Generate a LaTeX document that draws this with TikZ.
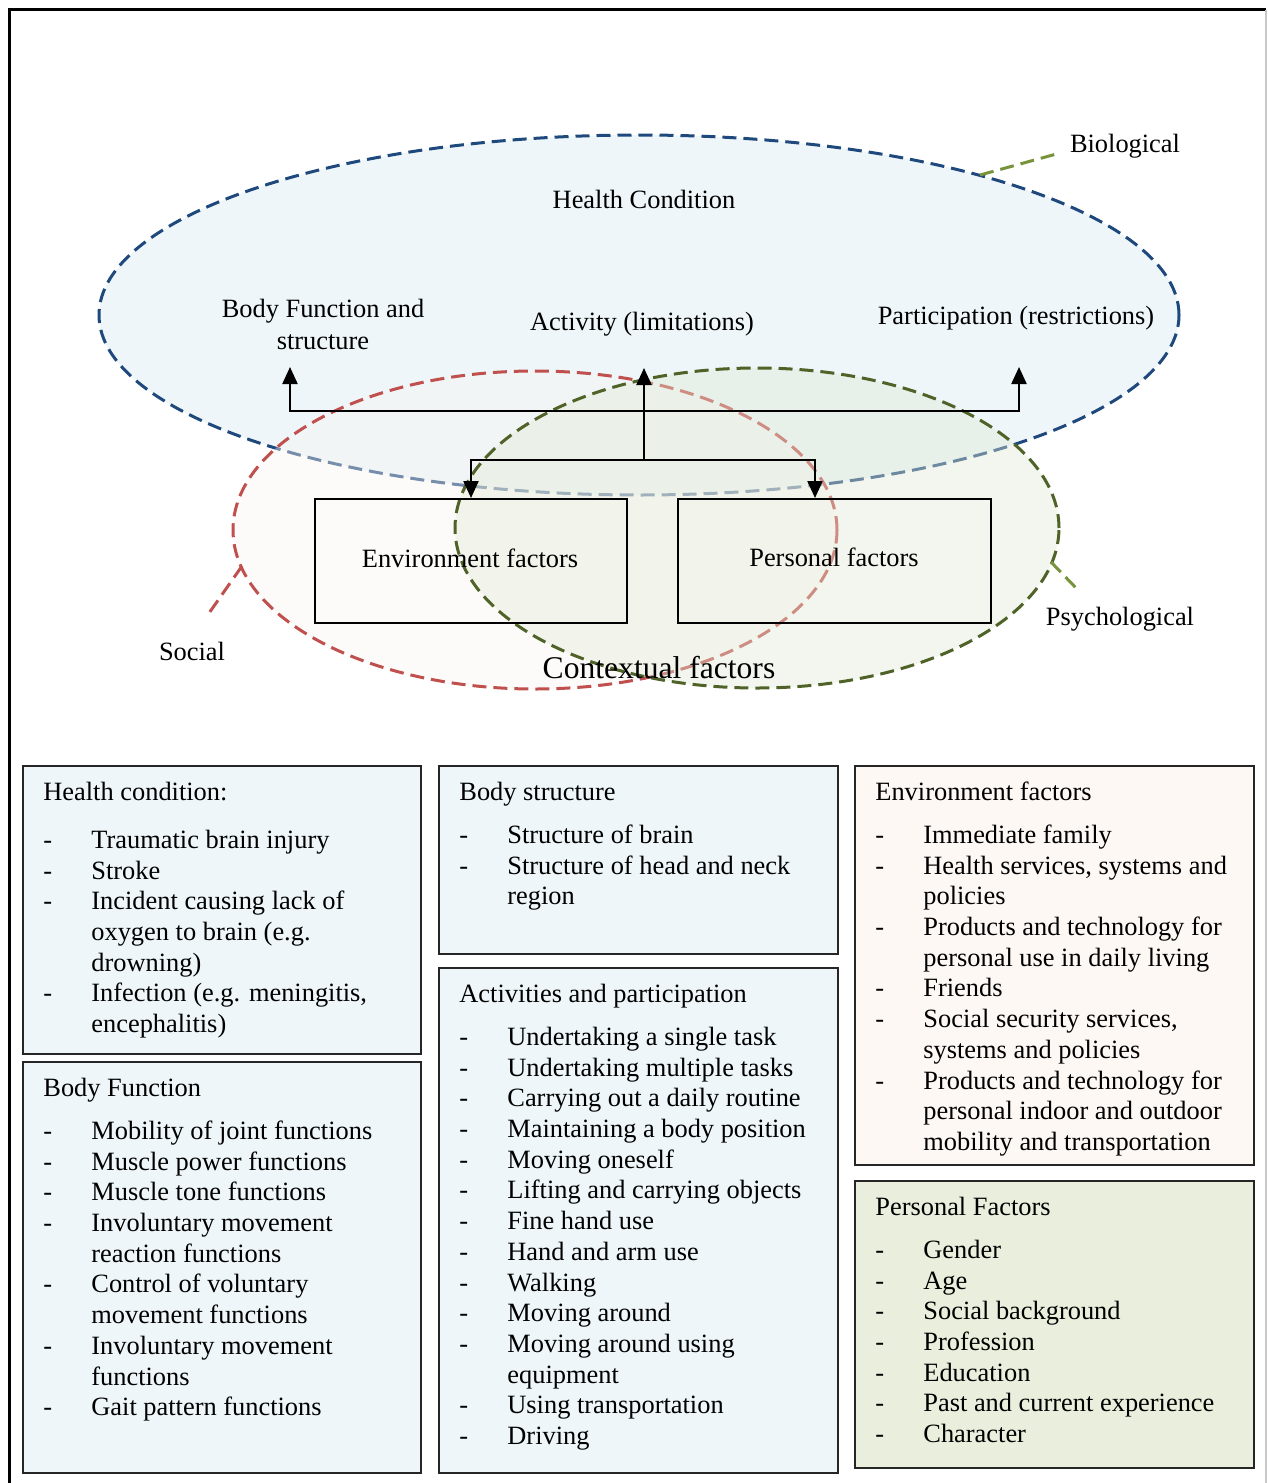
\documentclass[tikz,border=0pt]{standalone}
\usepackage{fontspec}
\setmainfont{Liberation Serif}
\usetikzlibrary{shapes.geometric,arrows.meta,calc}

\definecolor{bioline}{HTML}{1F497D}
\definecolor{biofill}{HTML}{EEF6F9}
\definecolor{socline}{HTML}{C0504D}
\definecolor{socfill}{HTML}{FAF5F0}
\definecolor{psyline}{HTML}{4F6228}
\definecolor{psyfill}{HTML}{E1E9D5}
\definecolor{leadgreen}{HTML}{77933C}
\definecolor{envfill}{HTML}{FDF8F4}
\definecolor{perfill}{HTML}{E9EFDC}
\definecolor{frameright}{HTML}{C8C8C8}

\newcommand{\paneltitle}[1]{\multicolumn{2}{@{}l@{}}{#1}}

\begin{document}
\begin{tikzpicture}[x=0.5pt,y=-0.5pt,
  every node/.style={font=\fontsize{13.2}{15.35}\selectfont},
  ring/.style={ellipse, inner sep=0pt, line width=1.5pt, dash pattern=on 7pt off 3.5pt},
  leader/.style={line width=1.5pt, dash pattern=on 7pt off 3.5pt},
  factorbox/.style={draw=black, line width=1pt, minimum width=156pt, minimum height=62pt, inner sep=0pt},
  link/.style={line width=1.1pt, -{Triangle[length=8.5pt,width=7.5pt]}},
  panel/.style={draw=black!85, line width=1pt, anchor=north west, inner sep=0pt},
  paneltext/.style={anchor=north west, inner sep=0pt, xshift=10.5pt, yshift=-6.75pt},
]
\useasboundingbox (0,0) rectangle (1268,1483);

% outer frame
\draw[line width=1.5pt] (9.5,1483) -- (9.5,9.5) -- (1266,9.5);
\draw[frameright, line width=1pt] (1266,9.5) -- (1266,1483);

% the three overlapping domains
\node[ring, draw=bioline, fill=biofill, minimum width=540pt, minimum height=180pt] (bio) at (639,315) {};
\node[ring, draw=socline, fill=socfill, fill opacity=0.4, minimum width=302pt, minimum height=159pt] (soc) at (535,530) {};
\node[ring, draw=psyline, fill=psyfill, fill opacity=0.4, minimum width=302pt, minimum height=160pt] (psy) at (757,528) {};

% labels of the domains
\node (biolabel) at (1125,146) {Biological};
\node (psylabel) at (1120,619) {Psychological};
\node (soclabel) at (192,651) {Social};
\coordinate (biotouch) at (980,175);
\coordinate (bioend) at (1060,153);
\coordinate (psytouch) at (1051,562);
\coordinate (psyend) at (1077,589);
\coordinate (soctouch) at (242,566);
\coordinate (socend) at (207,616);
\draw[leader, leadgreen] (biotouch) -- (bioend);
\draw[leader, leadgreen] (psytouch) -- (psyend);
\draw[leader, socline] (soctouch) -- (socend);

% components
\node (health) at (644,199) {Health Condition};
\node[align=center, font=\fontsize{13.2}{16}\selectfont] (bodyfn) at (323,324) {Body Function and\\structure};
\node (activity) at (642,324) {Activity (limitations)};
\node (particip) at (1016,318) {Participation (restrictions)};

\node[factorbox, minimum width=156pt] (envbox) at (471,561) {};
\node[factorbox, minimum width=156.5pt] (perbox) at (834.5,561) {};
\node (envtext) at (470,558) {Environment factors};
\node (pertext) at (834,557) {Personal factors};
\node[font=\fontsize{15.8}{18}\selectfont] (context) at (659,668) {Contextual factors};

% connectors
\coordinate (jtop) at (644,411);
\coordinate (jlow) at (644,460);
\coordinate (tipbody) at (290,367);
\coordinate (tipact) at (644,368);
\coordinate (tippart) at (1019,367);
\draw[link] (jlow) -- (tipact);
\draw[link] (jtop) -| (tipbody);
\draw[link] (jtop) -| (tippart);
\draw[link] (jlow) -| (envbox.north);
\draw[link] (jlow) -| ([xshift=-9.75pt]perbox.north);

% detail panels
\node[panel, fill=biofill, minimum width=199pt, minimum height=144pt] (p1) at (22,765) {};
\node[panel, fill=biofill, minimum width=199pt, minimum height=205.5pt] (p2) at (22,1061) {};
\node[panel, fill=biofill, minimum width=199.5pt, minimum height=94pt] (p3) at (438,765) {};
\node[panel, fill=biofill, minimum width=199.5pt, minimum height=252.5pt] (p4) at (438,967) {};
\node[panel, fill=envfill, minimum width=199.5pt, minimum height=199.5pt] (p5) at (854,765) {};
\node[panel, fill=perfill, minimum width=199.5pt, minimum height=143.5pt] (p6) at (854,1180) {};

\node[paneltext] (t1) at (p1.north west) {\begin{tabular}{@{}p{24pt}@{}l@{}}
\paneltitle{Health condition:}\\[8.65pt]
- & Traumatic brain injury\\
- & Stroke\\
- & Incident causing lack of\\
  & oxygen to brain (e.g.\\
  & drowning)\\
- & Infection (e.g. meningitis,\\
  & encephalitis)
\end{tabular}};

\node[paneltext] (t2) at (p2.north west) {\begin{tabular}{@{}p{24pt}@{}l@{}}
\paneltitle{Body Function}\\[6.15pt]
- & Mobility of joint functions\\
- & Muscle power functions\\
- & Muscle tone functions\\
- & Involuntary movement\\
  & reaction functions\\
- & Control of voluntary\\
  & movement functions\\
- & Involuntary movement\\
  & functions\\
- & Gait pattern functions
\end{tabular}};

\node[paneltext] (t3) at (p3.north west) {\begin{tabular}{@{}p{24pt}@{}l@{}}
\paneltitle{Body structure}\\[6.15pt]
- & Structure of brain\\
- & Structure of head and neck\\
  & region
\end{tabular}};

\node[paneltext] (t4) at (p4.north west) {\begin{tabular}{@{}p{24pt}@{}l@{}}
\paneltitle{Activities and participation}\\[6.15pt]
- & Undertaking a single task\\
- & Undertaking multiple tasks\\
- & Carrying out a daily routine\\
- & Maintaining a body position\\
- & Moving oneself\\
- & Lifting and carrying objects\\
- & Fine hand use\\
- & Hand and arm use\\
- & Walking\\
- & Moving around\\
- & Moving around using\\
  & equipment\\
- & Using transportation\\
- & Driving
\end{tabular}};

\node[paneltext] (t5) at (p5.north west) {\begin{tabular}{@{}p{24pt}@{}l@{}}
\paneltitle{Environment factors}\\[6.15pt]
- & Immediate family\\
- & Health services, systems and\\
  & policies\\
- & Products and technology for\\
  & personal use in daily living\\
- & Friends\\
- & Social security services,\\
  & systems and policies\\
- & Products and technology for\\
  & personal indoor and outdoor\\
  & mobility and transportation
\end{tabular}};

\node[paneltext] (t6) at (p6.north west) {\begin{tabular}{@{}p{24pt}@{}l@{}}
\paneltitle{Personal Factors}\\[6.15pt]
- & Gender\\
- & Age\\
- & Social background\\
- & Profession\\
- & Education\\
- & Past and current experience\\
- & Character
\end{tabular}};

\end{tikzpicture}
\end{document}
